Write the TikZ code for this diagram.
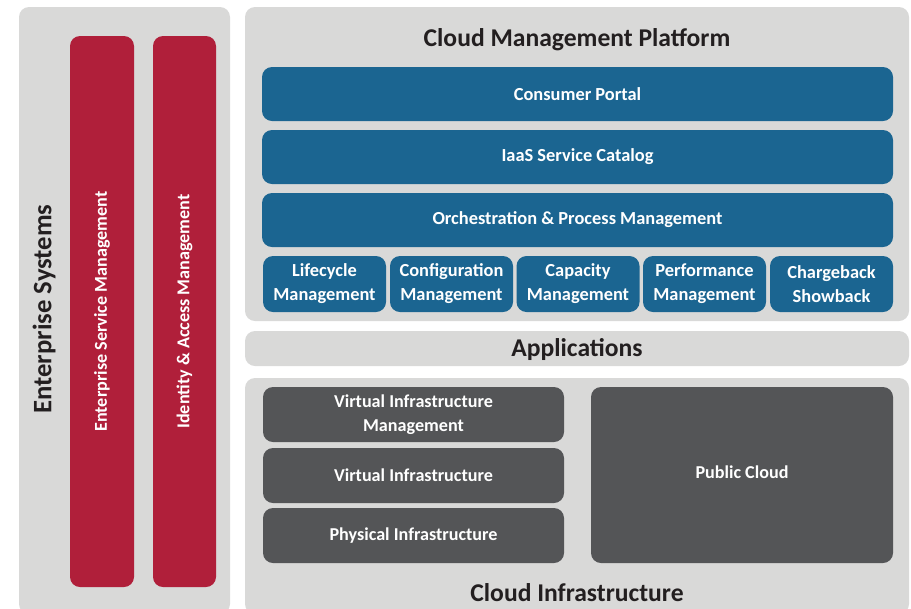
\documentclass[tikz,border=0pt]{standalone}
\usepackage{fontspec}
\setmainfont{Carlito}
\definecolor{panelgrey}{RGB}{217,217,216}
\definecolor{esred}{RGB}{176,31,58}
\definecolor{cmpblue}{RGB}{27,101,145}
\definecolor{infdark}{RGB}{84,85,87}
\definecolor{titletext}{RGB}{35,31,32}
\tikzset{
  box/.style 2 args={minimum width=#1*0.75pt, minimum height=#2*0.75pt, inner sep=0pt, rounded corners=7.5pt},
  panel/.style={fill=panelgrey, rounded corners=7.5pt},
  redbar/.style={fill=esred, rounded corners=9pt},
  barlabel/.style={rotate=90, text=white, font=\bfseries\fontsize{13.6}{16}\selectfont},
  bluebox/.style={fill=cmpblue, text=white, align=center, font=\bfseries\fontsize{13.8}{18}\selectfont},
  darkbox/.style={fill=infdark, text=white, align=center, font=\bfseries\fontsize{13.6}{17.5}\selectfont},
  layertitle/.style={text=titletext, font=\bfseries\fontsize{19.2}{22}\selectfont}
}
\begin{document}
\begin{tikzpicture}[x=0.75pt,y=0.75pt,yscale=-1,xscale=1]
\useasboundingbox (0,0) rectangle (911,608);

%Shape: Rectangle [left panel]
\node [panel, box={211}{607}] (entpanel) at (124.5,310.5) {};
%Shape: Rectangle [top right panel]
\node [panel, box={664}{314}] (cmppanel) at (577,164) {};
%Shape: Rectangle [applications bar]
\node [panel, box={664}{35}] (apppanel) at (577,348.5) {};
%Shape: Rectangle [bottom right panel]
\node [panel, box={664}{236}] (infpanel) at (577,496) {};

%Shape: Rectangle [red bars]
\node [redbar, box={64}{551}] (esm) at (102,311.5) {};
\node [redbar, box={63}{551}] (iam) at (184.5,311.5) {};

%Shape: Rectangle [blue layers]
\node [bluebox, box={631}{54}] (portal) at (577.5,94) {Consumer Portal};
\node [bluebox, box={631}{54}] (catalog) at (577.5,157) {IaaS Service Catalog};
\node [bluebox, box={631}{54}] (orch) at (577.5,220) {Orchestration \& Process Management};

%Shape: Rectangle [management modules]
\node [bluebox, box={123}{56}] (lifecycle) at (324.5,284) {Lifecycle\\Management};
\node [bluebox, box={123}{56}] (config) at (451.5,284) {Configuration\\Management};
\node [bluebox, box={123}{56}] (capacity) at (578,284) {Capacity\\Management};
\node [bluebox, box={123}{56}] (perf) at (704.5,284) {Performance\\Management};
\node [bluebox, box={123}{56}] (charge) at (831.5,284) {Chargeback\\Showback};

%Shape: Rectangle [infrastructure layers]
\node [darkbox, box={301}{55}] (vim) at (413.5,414.5) {Virtual Infrastructure\\Management};
\node [darkbox, box={301}{55}] (virt) at (413.5,475.5) {Virtual Infrastructure};
\node [darkbox, box={301}{55}] (phys) at (413.5,535.5) {Physical Infrastructure};
\node [darkbox, box={302}{176}] (public) at (742,475) {\raisebox{3.75pt}{Public Cloud}};

% Text Node
\node [layertitle, rotate=90, font=\bfseries\fontsize{20}{22}\selectfont] (enttitle) at (44,309) {Enterprise Systems};
% Text Node
\node [barlabel] (esmlabel) at (esm.center) {Enterprise Service Management};
% Text Node
\node [barlabel] (iamlabel) at (iam.center) {Identity \& Access Management};
% Text Node
\node [layertitle] (cmptitle) at (577,40) {Cloud Management Platform};
% Text Node
\node [layertitle] (apptitle) at (577,350) {Applications};
% Text Node
\node [layertitle] (inftitle) at (577,593) {Cloud Infrastructure};

\end{tikzpicture}
\end{document}
